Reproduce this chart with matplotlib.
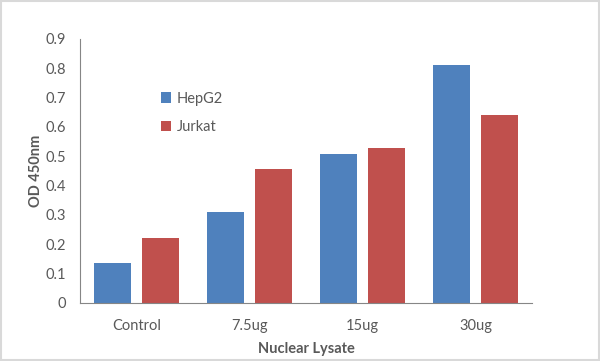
import numpy as np
import matplotlib
matplotlib.use('Agg')
import matplotlib.pyplot as plt

plt.rcParams['font.family'] = ['Lato', 'DejaVu Sans']

categories = ['Control', '7.5ug', '15ug', '30ug']
hepg2 = [0.137, 0.31, 0.507, 0.81]
jurkat = [0.22, 0.457, 0.527, 0.64]
yticks = [0, 0.1, 0.2, 0.3, 0.4, 0.5, 0.6, 0.7, 0.8, 0.9]

BLUE = '#4F81BD'
RED = '#C0504D'
GRAY = '#595959'

fig = plt.figure(figsize=(6, 3.61), dpi=100)
fig.patches.append(plt.Rectangle((0.001, 0.002), 0.997, 0.995, transform=fig.transFigure,
                                 fill=False, edgecolor='#d9d9d9', linewidth=1.5))
ax = fig.add_axes([0.1333, 0.1615, 0.7534, 0.7305])

x = np.arange(len(categories))
w = 0.33
ax.bar(x - 0.21, hepg2, w, color=BLUE, label='HepG2')
ax.bar(x + 0.21, jurkat, w, color=RED, label='Jurkat')

ax.set_xlim(-0.5, len(categories) - 0.5)
ax.set_ylim(0, 0.9)
ax.set_yticks(yticks)
ax.set_yticklabels([('%g' % v) for v in yticks])
ax.set_xticks(x)
ax.set_xticklabels(categories)
ax.tick_params(length=0, labelsize=10.5, colors=GRAY, pad=12)
ax.tick_params(axis='y', pad=10)

for s in ['top', 'right']:
    ax.spines[s].set_visible(False)
ax.spines['left'].set_color('#868686')
ax.spines['bottom'].set_color('#868686')

ax.set_ylabel('OD 450nm', fontsize=10.5, fontweight='bold', color=GRAY, labelpad=2)
ax.set_xlabel('Nuclear Lysate', fontsize=10.5, fontweight='bold', color=GRAY, labelpad=6)

leg = ax.legend(loc='upper left', bbox_to_anchor=(0.15, 0.85), frameon=False,
                handlelength=0.7, handleheight=0.7, handletextpad=0.4,
                labelspacing=1.0, fontsize=10.5)
for t in leg.get_texts():
    t.set_color(GRAY)

fig.savefig('out.png', dpi=100)
